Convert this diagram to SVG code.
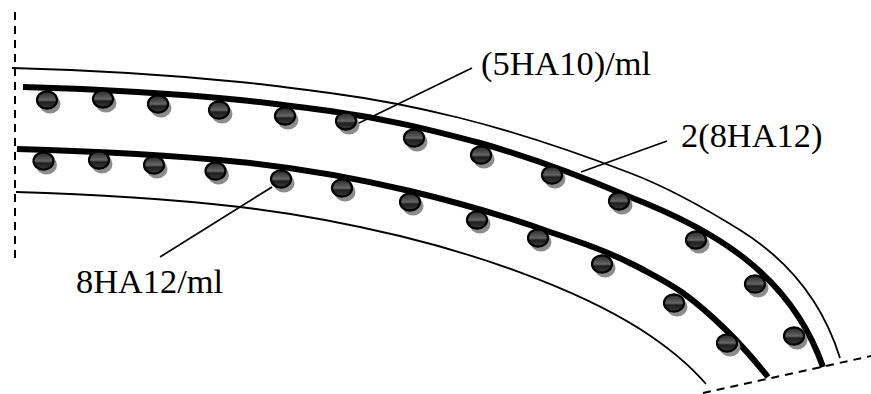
<svg xmlns="http://www.w3.org/2000/svg" width="871" height="394" viewBox="0 0 871 394">
<style>
.thin{fill:none;stroke:#000;stroke-width:1.8}
.thick{fill:none;stroke:#000;stroke-width:6}
.dash{fill:none;stroke:#000;stroke-width:2;stroke-dasharray:8 6}
.lead{fill:none;stroke:#000;stroke-width:1.7}
text{font-family:"Liberation Serif","Times New Roman",serif;font-size:34.400px;fill:#000}
</style>
<defs>
<linearGradient id="g" x1="0" y1="0" x2="0" y2="1">
<stop offset="0" stop-color="#262626"/><stop offset=".45" stop-color="#5e5e5e"/><stop offset=".5" stop-color="#686868"/><stop offset=".62" stop-color="#1e1e1e"/><stop offset="1" stop-color="#3c3c3c"/>
</linearGradient>
<g id="ball">
<ellipse cx="3" cy="4" rx="10.500" ry="9.500" fill="#8c8c8c"/>
<ellipse cx="0" cy="0" rx="10" ry="8.600" fill="url(#g)" stroke="#000" stroke-width="2.200"/>
</g>
</defs>
<g id="connectors">
<path class="dash" d="M15 12V258"/>
<path class="dash" d="M703 393L871 356"/>
<path class="thin" d="M12 68C90 70 170 75 240 82C270 85 300 89 330 93C375 99 420 108 460 118C520 133 570 150 630 173C667 187 703 207 740 230C785 258 822 300 840 358"/>
<path class="thin" d="M16 192C90 194 170 199 240 207C300 214 350 224 400 236C470 253 570 285 640 329C665 345 687 362 706 384"/>
<path class="thick" d="M23 87C95 89 170 93 240 100C270 103 300 107 330 111C380 118 420 127 480 143C540 160 590 180 630 197C710 228 790 272 823 367"/>
<path class="thick" d="M17 149C90 151 170 155 240 162C300 168 355 178 410 191C460 203 505 216 550 232C580 242 610 252.100 640 268C654.300 275.600 668.700 282.700 683 293C697.300 303.300 711.700 316 726 330C740 343.700 754 359.500 768 377"/>
<path class="lead" d="M472 68L357 124"/>
<path class="lead" d="M667 141L581 172"/>
<path class="lead" d="M272 187L160 257"/>
</g>
<g id="row1">
<use href="#ball" x="47" y="100"/><use href="#ball" x="103" y="99"/><use href="#ball" x="158" y="104"/><use href="#ball" x="219" y="110"/><use href="#ball" x="285" y="116"/><use href="#ball" x="346" y="121"/><use href="#ball" x="414" y="138"/><use href="#ball" x="481" y="155"/><use href="#ball" x="552" y="175"/><use href="#ball" x="619" y="201"/><use href="#ball" x="696" y="240"/><use href="#ball" x="755" y="284"/><use href="#ball" x="794" y="336"/>
</g>
<g id="row2">
<use href="#ball" x="43.500" y="161"/><use href="#ball" x="99" y="160"/><use href="#ball" x="154" y="165"/><use href="#ball" x="215.500" y="171"/><use href="#ball" x="281" y="179"/><use href="#ball" x="342" y="188"/><use href="#ball" x="410" y="202"/><use href="#ball" x="477" y="220"/><use href="#ball" x="538" y="238"/><use href="#ball" x="602" y="264"/><use href="#ball" x="674" y="303"/><use href="#ball" x="727" y="343"/>
</g>
<g id="label1"><text x="481" y="75">(5HA10)/ml</text></g>
<g id="label2"><text x="681" y="147">2(8HA12)</text></g>
<g id="label3"><text x="76" y="292.500">8HA12/ml</text></g>
</svg>
